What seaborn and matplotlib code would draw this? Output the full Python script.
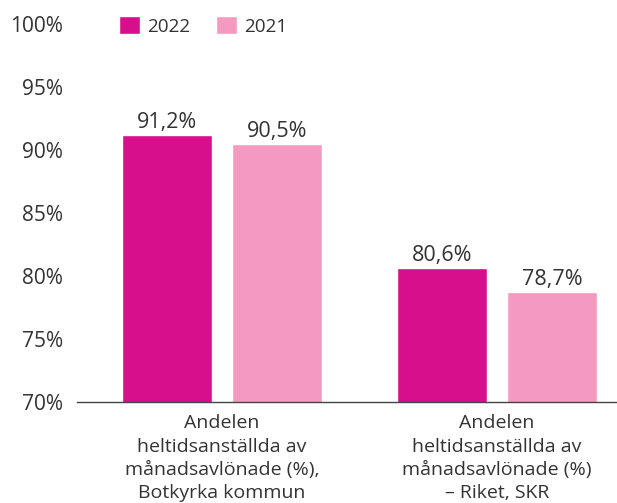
import matplotlib
matplotlib.use("Agg")
import matplotlib.pyplot as plt
import pandas as pd
import seaborn as sns

categories = [
    "Andelen\nheltidsanställda av\nmånadsavlönade (%),\nBotkyrka kommun",
    "Andelen\nheltidsanställda av\nmånadsavlönade (%)\n– Riket, SKR",
]
years = ["2022", "2021"]
values_2022 = [91.2, 80.6]
values_2021 = [90.5, 78.7]
yticks = [70, 75, 80, 85, 90, 95, 100]

colors = {"2022": "#d70f8c", "2021": "#f49ac1"}
text_color = "#333333"

df = pd.DataFrame({
    "kategori": categories * 2,
    "år": [years[0]] * 2 + [years[1]] * 2,
    "andel": values_2022 + values_2021,
})

sns.set_theme(style="white")
plt.rcParams["font.family"] = ["Open Sans", "DejaVu Sans"]

fig = plt.figure(figsize=(6.17, 5.03), dpi=100)
ax = fig.add_axes([77 / 617, 0.2008, 1 - 77 / 617, 0.7515])

sns.barplot(data=df, x="kategori", y="andel", hue="år", hue_order=years,
            palette=colors, width=0.8, gap=0.175, saturation=1, ax=ax)

for cont in ax.containers:
    ax.bar_label(cont, labels=[f"{v:.1f}%".replace(".", ",") for v in cont.datavalues],
                 padding=1.5, fontsize=15.5, color=text_color)

ax.set_ylim(70, 100)
ax.set_xlim(-0.527, 1.436)
ax.set_yticks(yticks)
ax.set_yticklabels([f"{t}%" for t in yticks])
ax.tick_params(axis="y", length=0, pad=10, labelsize=15, labelcolor=text_color)
ax.tick_params(axis="x", length=0, pad=9, labelsize=14, labelcolor=text_color)
for lab in ax.get_xticklabels():
    lab.set_linespacing(1.36)
ax.set_xlabel("")
ax.set_ylabel("")

for s in ["top", "right", "left"]:
    ax.spines[s].set_visible(False)
ax.spines["bottom"].set_color("#444444")
ax.spines["bottom"].set_linewidth(1.0)

leg = ax.legend(loc="center left", bbox_to_anchor=(119 / 617, 1 - 26 / 503),
                bbox_transform=fig.transFigure, ncol=2, frameon=False,
                borderpad=0, borderaxespad=0,
                handlelength=1.11, handleheight=1.11, handletextpad=0.37,
                columnspacing=1.37, fontsize=13.6)
for t in leg.get_texts():
    t.set_color(text_color)

fig.savefig("out.png", dpi=100)
